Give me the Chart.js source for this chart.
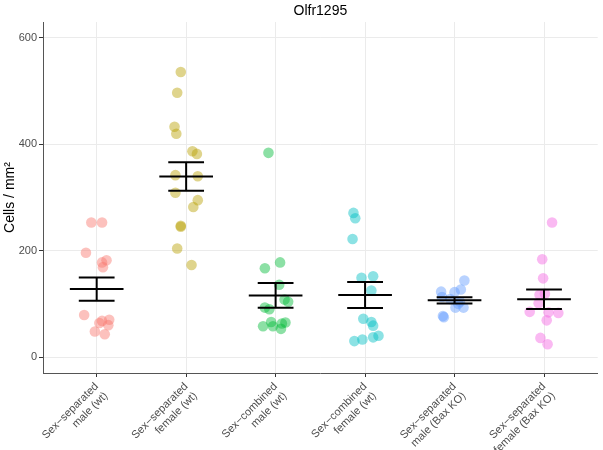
<!DOCTYPE html>
<html>
<head>
<meta charset="utf-8">
<script src="https://cdn.jsdelivr.net/npm/chart.js@4.4.0/dist/chart.umd.min.js"></script>
<style>
  html, body { margin: 0; padding: 0; background: #fff; }
  canvas { display: block; }
</style>
</head>
<body>
<canvas id="plot" width="603" height="450"></canvas>
<script>
var plotTitle = "Olfr1295";
var yTitle = "Cells / mm\u00B2";

// group labels, two lines each
var groups = [
    ["Sex\u2212separated", "male (wt)"],
    ["Sex\u2212separated", "female (wt)"],
    ["Sex\u2212combined", "male (wt)"],
    ["Sex\u2212combined", "female (wt)"],
    ["Sex\u2212separated", "male (Bax KO)"],
    ["Sex\u2212separated", "female (Bax KO)"]
];
var yTicks = [0, 200, 400, 600];

// cells per mm2
var sepMaleWt   = [253, 253, 196, 178, 182, 169, 79, 68, 70, 64, 60, 48, 43];
var sepFemaleWt = [536, 497, 433, 420, 387, 382, 342, 340, 309, 295, 282, 247, 245, 204, 173];
var combMaleWt  = [384, 178, 167, 136, 108, 104, 93, 90, 58, 66, 58, 63, 65, 53];
var combFemaleWt = [271, 261, 222, 149, 152, 125, 72, 66, 59, 37, 40, 33, 30];
var sepMaleBax  = [144, 127, 123, 122, 113, 109, 104, 93, 93, 100, 75, 77];
var sepFemaleBax = [253, 184, 148, 119, 117, 101, 85, 84, 83, 69, 36, 24];

// horizontal jitter of each point, in group widths
var jitMale   = [-0.06, 0.06, -0.12, 0.06, 0.11, 0.07, -0.14, 0.06, 0.14, 0.03, 0.13, -0.02, 0.09];
var jitFemale = [-0.06, -0.10, -0.13, -0.11, 0.07, 0.12, -0.12, 0.13, -0.12, 0.13, 0.08, -0.06, -0.06, -0.10, 0.06];
var jitCombM  = [-0.08, 0.05, -0.12, 0.04, 0.10, 0.14, -0.12, -0.07, -0.14, -0.05, -0.03, 0.07, 0.11, 0.06];
var jitCombF  = [-0.13, -0.11, -0.14, -0.04, 0.09, 0.07, -0.02, 0.07, 0.09, 0.09, 0.15, -0.03, -0.12];
var jitBaxM   = [0.11, 0.07, -0.15, 0.0, -0.14, -0.05, 0.06, 0.01, 0.10, 0.04, -0.12, -0.13];
var jitBaxF   = [0.09, -0.02, -0.01, 0.01, -0.05, -0.06, -0.16, 0.05, 0.16, 0.03, -0.04, 0.04];

var values = [sepMaleWt, sepFemaleWt, combMaleWt, combFemaleWt, sepMaleBax, sepFemaleBax];
var jitters = [jitMale, jitFemale, jitCombM, jitCombF, jitBaxM, jitBaxF];
var colors = ["#F8766D", "#B79F00", "#00BA38", "#00BFC4", "#619CFF", "#F564E3"];

function alpha(hex, a){
    var r = parseInt(hex.substr(1,2),16), g = parseInt(hex.substr(3,2),16), b = parseInt(hex.substr(5,2),16);
    return "rgba("+r+","+g+","+b+","+a+")";
}

var datasets = [];

// mean +/- standard error bars
for(var i = 0; i < values.length; i++){
    var v = values[i];
    var n = v.length;
    var m = v.reduce(function(a,b){return a+b;}, 0) / n;
    var ss = v.reduce(function(a,b){return a+(b-m)*(b-m);}, 0);
    var se = Math.sqrt(ss/(n-1)) / Math.sqrt(n);
    var c = i + 1;
    datasets.push({
        type: 'line',
        order: 0,
        data: [
            {x: c-0.3, y: m}, {x: c+0.3, y: m}, {x: c, y: null},
            {x: c-0.2, y: m+se}, {x: c+0.2, y: m+se}, {x: c, y: null},
            {x: c-0.2, y: m-se}, {x: c+0.2, y: m-se}, {x: c, y: null},
            {x: c, y: m+se}, {x: c, y: m-se}
        ],
        borderColor: "#000",
        borderWidth: 2,
        pointRadius: 0,
        spanGaps: false,
        tension: 0
    });
}

// jittered points
for(var i = 0; i < values.length; i++){
    var pts = [];
    for(var j = 0; j < values[i].length; j++){
        pts.push({x: i + 1 + jitters[i][j], y: values[i][j]});
    }
    datasets.push({
        type: 'scatter',
        order: 1,
        data: pts,
        backgroundColor: alpha(colors[i], 0.45),
        borderWidth: 0,
        pointRadius: 5.3,
        pointHoverRadius: 5.3
    });
}

var titlePlugin = {
    id: 'panelTitle',
    afterDraw: function(chart){
        var ctx = chart.ctx, a = chart.chartArea;
        ctx.save();
        ctx.font = '14px "Liberation Sans", Arial, sans-serif';
        ctx.fillStyle = "#000";
        ctx.textAlign = "center";
        ctx.textBaseline = "middle";
        ctx.fillText(plotTitle, (a.left + a.right) / 2, 11);
        ctx.restore();
    }
};

var fontFam = '"Liberation Sans", Arial, sans-serif';

new Chart(document.getElementById("plot"), {
    type: 'scatter',
    data: { datasets: datasets },
    plugins: [titlePlugin],
    options: {
        responsive: false,
        animation: false,
        devicePixelRatio: 1,
        layout: { padding: { top: 22, right: 2, left: 0, bottom: 0 } },
        plugins: { legend: { display: false }, tooltip: { enabled: false }, title: { display: false } },
        scales: {
            x: {
                type: 'linear',
                min: 0.4,
                max: 6.6,
                afterBuildTicks: function(scale){
                    scale.ticks = groups.map(function(g, k){ return {value: k + 1}; });
                },
                afterFit: function(scale){ scale.height = 77; },
                grid: { color: "#ebebeb", lineWidth: 1, tickColor: "#333", tickLength: 4 },
                border: { color: "#555", width: 1 },
                ticks: {
                    autoSkip: false,
                    minRotation: 45,
                    maxRotation: 45,
                    padding: 3,
                    color: "#4d4d4d",
                    font: { family: fontFam, size: 11, lineHeight: 1.2 },
                    callback: function(val){ return groups[Math.round(val) - 1]; }
                }
            },
            y: {
                min: -30,
                max: 630,
                afterBuildTicks: function(scale){
                    scale.ticks = yTicks.map(function(t){ return {value: t}; });
                },
                afterFit: function(scale){ scale.width = 43; },
                grid: { color: "#ebebeb", lineWidth: 1, tickColor: "#333", tickLength: 4 },
                border: { color: "#555", width: 1 },
                ticks: {
                    padding: 2,
                    color: "#4d4d4d",
                    font: { family: fontFam, size: 11 }
                },
                title: {
                    display: true,
                    text: yTitle,
                    color: "#000",
                    padding: { top: 2, bottom: 2 },
                    font: { family: fontFam, size: 14 }
                }
            }
        }
    }
});
</script>
</body>
</html>
